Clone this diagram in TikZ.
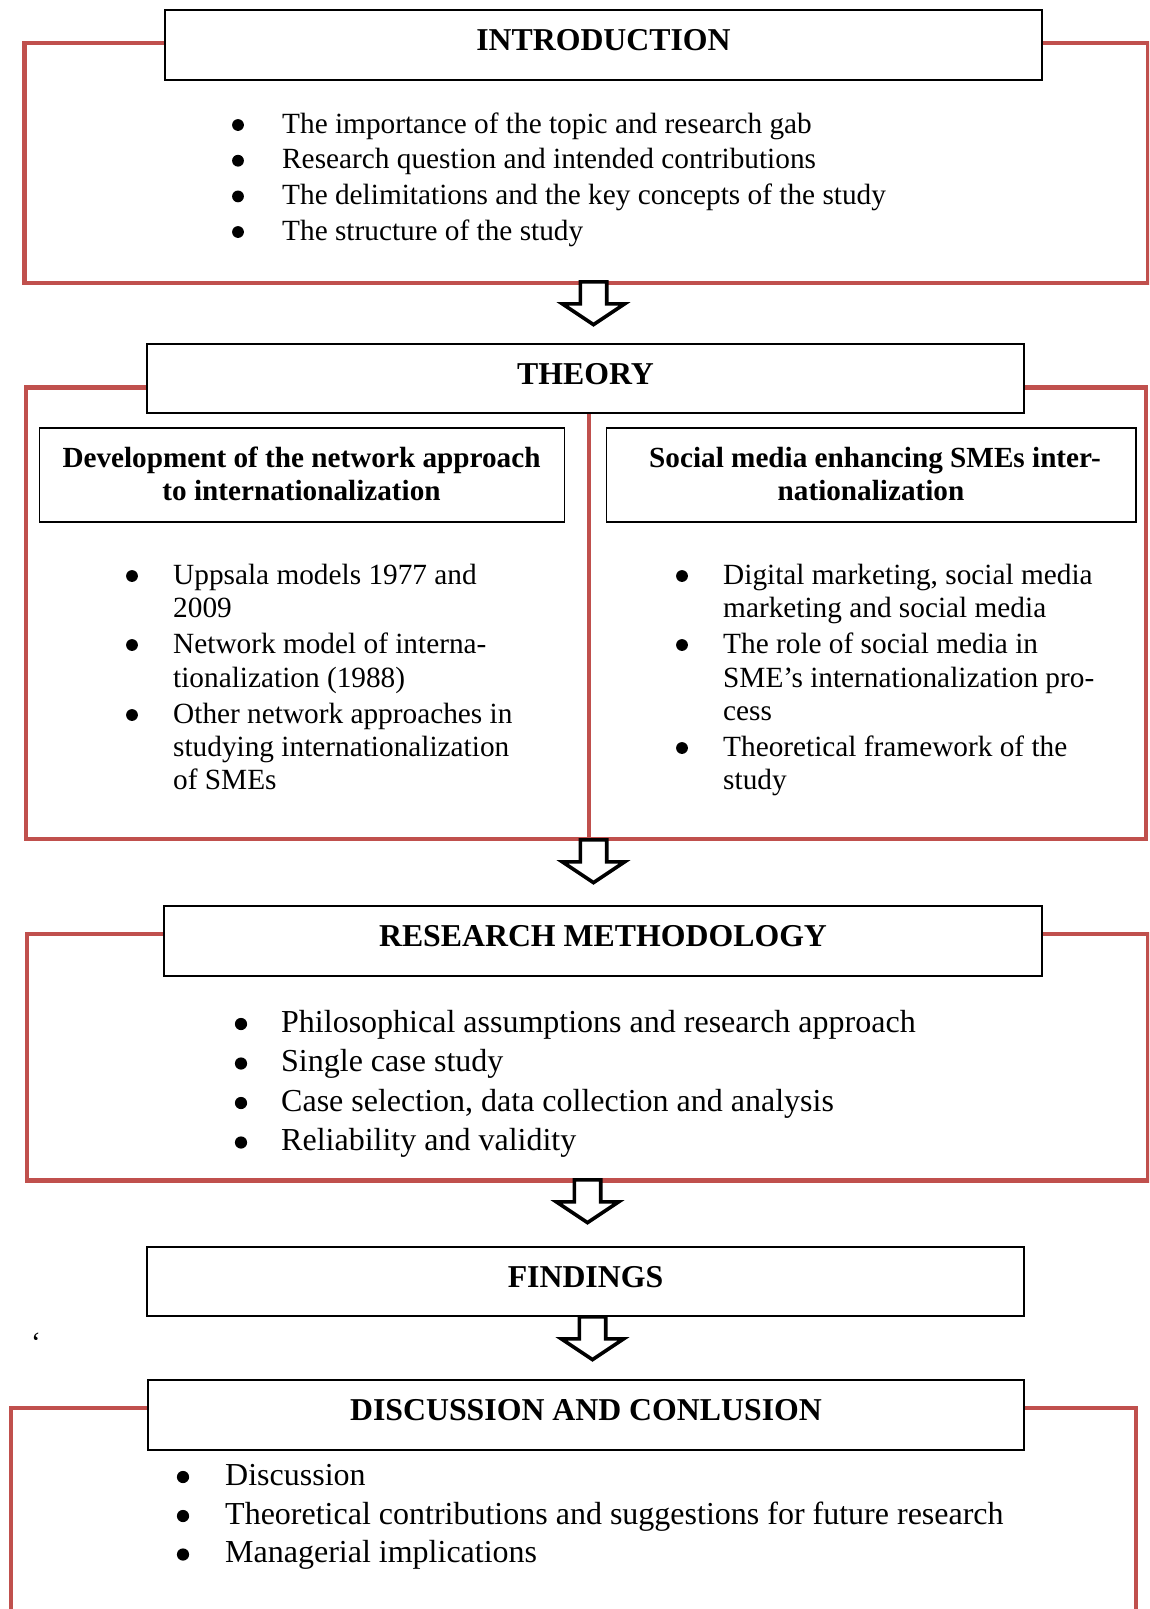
\documentclass[tikz,border=0pt]{standalone}
\usepackage{fontspec}
\setmainfont{Liberation Serif}
\usetikzlibrary{calc}
\definecolor{framered}{HTML}{C0504D}

% hollow block arrow pointing down: #1 name, #2 centre x, #3 top y
\newcommand{\flowarrow}[3]{%
  \coordinate (#1) at (#2,#3);
  \draw[blockarrow]
    ($(#1)+(-13.2,1.8)$) -- ($(#1)+(13.2,1.8)$) -- ($(#1)+(13.2,23.8)$)
    -- ($(#1)+(31.2,23.8)$) -- ($(#1)+(0,44.6)$) -- ($(#1)+(-31.2,23.8)$)
    -- ($(#1)+(-13.2,23.8)$) -- cycle;
}

\begin{document}
\begin{tikzpicture}[x=1pt,y=-1pt,
  redframe/.style={draw=framered, line width=4.3pt, line join=miter},
  headbox/.style={draw=black, line width=1.4pt, fill=white, rectangle, inner sep=0pt},
  headtext/.style={font=\fontsize{31.8}{38}\selectfont\bfseries, anchor=base, inner sep=0pt},
  subtext/.style={font=\fontsize{29.2}{34}\selectfont\bfseries, anchor=base, inner sep=0pt},
  bodytext/.style={font=\fontsize{29.3}{35}\selectfont, anchor=base west, inner sep=0pt},
  bodylarge/.style={font=\fontsize{32}{39}\selectfont, anchor=base west, inner sep=0pt},
  bulletdot/.style={fill=black, circle, inner sep=0pt, minimum size=11.8pt},
  blockarrow/.style={draw=black, line width=3.6pt, fill=white, line join=miter, miter limit=10}
]
\useasboundingbox (0,0) rectangle (1149,1609);
\clip (0,0) rectangle (1149,1609);

% ---------- red section frames ----------
\draw[redframe] (24.5,43) rectangle (1148,283.3);
\draw[redframe] (26,387.5) rectangle (1146,839.3);
\draw[redframe] (589,387.5) -- (589,839.3);
\draw[redframe] (27,934) rectangle (1148,1180.5);
\draw[redframe] (11,1640) -- (11,1408) -- (1136,1408) -- (1136,1640);

% ---------- INTRODUCTION ----------
\node[headbox, minimum width=877pt, minimum height=70pt] (introbox) at (603.5,45) {};
\node[headtext] (introtitle) at (603.5,50) {INTRODUCTION};
\foreach \y/\t [count=\i] in {133/The importance of the topic and research gab,
    168.7/Research question and intended contributions,
    204.4/The delimitations and the key concepts of the study,
    240/The structure of the study}{
  \node[bulletdot] (introdot\i) at (238,\y-8) {};
  \node[bodytext] (introitem\i) at (282,\y) {\t};
}

\flowarrow{arrowA}{593.5}{280}

% ---------- THEORY ----------
\node[headbox, minimum width=877pt, minimum height=69pt] (theorybox) at (585.5,378.5) {};
\node[headtext] (theorytitle) at (585.5,384) {THEORY};

\node[headbox, minimum width=525pt, minimum height=94pt] (netbox) at (302,475) {};
\node[subtext] (netline1) at (301.5,467) {Development of the network approach};
\node[subtext] (netline2) at (301.5,500) {to internationalization};

\node[headbox, minimum width=529.5pt, minimum height=94pt] (socbox) at (871.25,475) {};
\node[subtext] (socline1) at (875,467) {Social media enhancing SMEs inter-};
\node[subtext] (socline2) at (871,500) {nationalization};

\foreach \y in {584,653,723}{ \node[bulletdot] at (132,\y-8) {}; }
\node[bodytext] (netitem1) at (173,584) {Uppsala models 1977 and};
\node[bodytext] (netitem2) at (173,617) {2009};
\node[bodytext] (netitem3) at (173,653) {Network model of interna-};
\node[bodytext] (netitem4) at (173,687) {tionalization (1988)};
\node[bodytext] (netitem5) at (173,723) {Other network approaches in};
\node[bodytext] (netitem6) at (173,756) {studying internationalization};
\node[bodytext] (netitem7) at (173,789) {of SMEs};

\foreach \y in {584,653,756}{ \node[bulletdot] at (682,\y-8) {}; }
\node[bodytext] (socitem1) at (723,584) {Digital marketing, social media};
\node[bodytext] (socitem2) at (723,617) {marketing and social media};
\node[bodytext] (socitem3) at (723,653) {The role of social media in};
\node[bodytext] (socitem4) at (723,687) {SME’s internationalization pro-};
\node[bodytext] (socitem5) at (723,720) {cess};
\node[bodytext] (socitem6) at (723,756) {Theoretical framework of the};
\node[bodytext] (socitem7) at (723,789) {study};

\flowarrow{arrowB}{593.5}{838}

% ---------- RESEARCH METHODOLOGY ----------
\node[headbox, minimum width=878pt, minimum height=70pt] (methbox) at (603,941) {};
\node[headtext] (methtitle) at (603,946) {RESEARCH METHODOLOGY};
\foreach \y/\t [count=\i] in {1032/Philosophical assumptions and research approach,
    1071.5/Single case study,
    1111/{Case selection, data collection and analysis},
    1150.5/Reliability and validity}{
  \node[bulletdot, minimum size=12.2pt] (methdot\i) at (241,\y-8) {};
  \node[bodylarge] (methitem\i) at (281,\y) {\t};
}

\flowarrow{arrowC}{587.5}{1178}

% ---------- FINDINGS ----------
\node[headbox, minimum width=877pt, minimum height=69pt] (findbox) at (585.5,1281.5) {};
\node[headtext] (findtitle) at (585.5,1287) {FINDINGS};

\node[bodytext] (quote) at (31,1352) {‘};

\flowarrow{arrowD}{592.5}{1315}

% ---------- DISCUSSION AND CONCLUSION ----------
\node[headbox, minimum width=876pt, minimum height=70pt] (discbox) at (586,1415) {};
\node[headtext] (disctitle) at (586,1420.5) {DISCUSSION AND CONLUSION};
\foreach \y/\t [count=\i] in {1485/Discussion,
    1524/Theoretical contributions and suggestions for future research,
    1562.5/Managerial implications}{
  \node[bulletdot, minimum size=12.2pt] (discdot\i) at (183,\y-8) {};
  \node[bodylarge] (discitem\i) at (225,\y) {\t};
}
\end{tikzpicture}
\end{document}
